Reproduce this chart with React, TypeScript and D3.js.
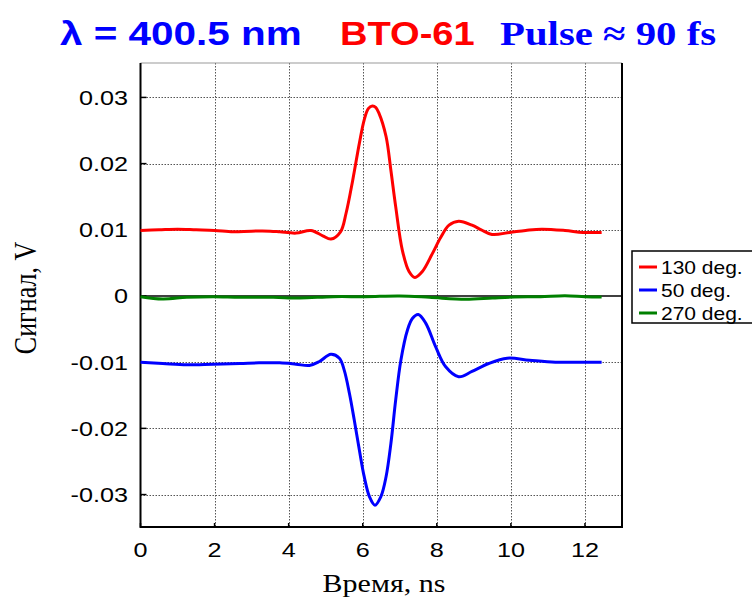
import * as d3 from 'd3';
import { useEffect, useRef } from 'react';

// 130 deg (red)
const tRed = [0, 0.5, 1, 1.5, 2, 2.5, 3, 3.5, 3.76, 4.2, 4.6, 4.92, 5.14, 5.4, 5.55, 5.73, 5.91, 6.04, 6.15, 6.26, 6.35, 6.44, 6.63, 6.76, 6.89, 7.07, 7.25, 7.41, 7.61, 7.88, 8.1, 8.33, 8.59, 8.95, 9.2, 9.49, 9.97, 10.4, 10.83, 11.46, 11.95, 12.45];
const vRed = [0.0099, 0.01, 0.0101, 0.01, 0.0099, 0.0097, 0.0098, 0.0098, 0.0097, 0.0095, 0.0099, 0.0091, 0.0086, 0.0097, 0.0125, 0.0175, 0.0231, 0.0266, 0.0283, 0.0287, 0.0285, 0.0276, 0.0241, 0.019, 0.0135, 0.0069, 0.0037, 0.0028, 0.0037, 0.0064, 0.0088, 0.0107, 0.0113, 0.0107, 0.01, 0.0093, 0.0096, 0.0099, 0.0101, 0.0099, 0.0096, 0.0096];

// 50 deg (blue)
const tBlue = [0, 0.6, 1.25, 1.96, 2.68, 3.2, 3.76, 4.2, 4.56, 4.83, 5.14, 5.37, 5.5, 5.64, 5.77, 5.91, 6.04, 6.18, 6.33, 6.49, 6.63, 6.76, 6.89, 7.03, 7.21, 7.34, 7.5, 7.7, 7.97, 8.24, 8.59, 8.95, 9.4, 9.9, 10.5, 11.2, 12.0, 12.45];
const vBlue = [-0.01, -0.0102, -0.0104, -0.0103, -0.0102, -0.0101, -0.0101, -0.0103, -0.0105, -0.0099, -0.0088, -0.0094, -0.0112, -0.0147, -0.0187, -0.0233, -0.0273, -0.0303, -0.0316, -0.0303, -0.0273, -0.0223, -0.0157, -0.0097, -0.0051, -0.0034, -0.0028, -0.0041, -0.0077, -0.0107, -0.0122, -0.0114, -0.0102, -0.0094, -0.0097, -0.01, -0.01, -0.01];

// 270 deg (green)
const tGreen = [0, 0.6, 1.25, 1.96, 2.68, 3.58, 4.3, 5.2, 6.08, 7.0, 7.8, 8.77, 9.5, 10.1, 10.8, 11.46, 12.0, 12.45];
const vGreen = [-0.0001, -0.00045, -0.0002, -0.0001, -0.0002, -0.0002, -0.0003, -0.0001, -0.0001, 0, -0.0002, -0.0005, -0.0003, -0.00015, -0.0001, 0.00005, -0.0001, -0.00015];

const xTicks = [0, 2, 4, 6, 8, 10, 12];
const yTicks = [-0.03, -0.02, -0.01, 0, 0.01, 0.02, 0.03];
const seriesNames = ['130 deg.', '50 deg.', '270 deg.'];
const seriesColors = ['#ff0000', '#0000ff', '#008000'];

const SANS = "'Liberation Sans', Arial, sans-serif";
const SERIF = "'Liberation Serif', 'Times New Roman', serif";
const SX = 1.2; // the original picture is stretched sideways

export default function App() {
  const svgRef = useRef<SVGSVGElement | null>(null);

  useEffect(() => {
    if (!svgRef.current) return;
    const svg = d3.select(svgRef.current);
    svg.selectAll('*').remove();

    const left = 140.5, right = 622, top = 63, bottom = 527;
    const x = d3.scaleLinear().domain([0, 13]).range([left, right]);
    const y = d3.scaleLinear().domain([-0.0349, 0.0352]).range([bottom, top]);

    // stretched text helper
    const label = (px: number, py: number, txt: string, size: number, anchor: string, fam: string, fill = '#000', weight = 'normal', sx = SX) =>
      svg.append('text')
        .attr('transform', `translate(${px},${py}) scale(${sx},1)`)
        .attr('text-anchor', anchor)
        .attr('font-family', fam)
        .attr('font-size', size)
        .attr('font-weight', weight)
        .attr('fill', fill)
        .text(txt);

    // grid (dotted)
    const grid = svg.append('g').attr('stroke', '#555').attr('stroke-width', 1).attr('stroke-dasharray', '1.5,1.5');
    grid.append('g').selectAll('line').data(xTicks.filter(d => d > 0)).join('line')
      .attr('x1', d => Math.round(x(d)) + 0.5).attr('x2', d => Math.round(x(d)) + 0.5).attr('y1', top).attr('y2', bottom);
    grid.append('g').selectAll('line').data(yTicks.filter(d => d !== 0)).join('line')
      .attr('x1', left).attr('x2', right).attr('y1', d => Math.round(y(d)) + 0.5).attr('y2', d => Math.round(y(d)) + 0.5);

    // zero line
    svg.append('line').attr('x1', left).attr('x2', right).attr('y1', y(0)).attr('y2', y(0))
      .attr('stroke', '#000').attr('stroke-width', 1.5);

    // box
    svg.append('line').attr('x1', left).attr('x2', right).attr('y1', top).attr('y2', top).attr('stroke', '#999').attr('stroke-width', 1);
    svg.append('path').attr('d', `M${left},${top}V${bottom}H${right}V${top}`)
      .attr('fill', 'none').attr('stroke', '#000').attr('stroke-width', 2);

    // ticks (inward)
    svg.append('g').selectAll('line').data(yTicks).join('line')
      .attr('x1', left).attr('x2', left + 6).attr('y1', d => y(d)).attr('y2', d => y(d))
      .attr('stroke', '#000').attr('stroke-width', 1.5);
    svg.append('g').selectAll('line').data(xTicks).join('line')
      .attr('x1', d => x(d)).attr('x2', d => x(d)).attr('y1', bottom).attr('y2', bottom - 4)
      .attr('stroke', '#000').attr('stroke-width', 1.5);

    // tick labels
    yTicks.forEach(v => label(128, y(v) + 7.5, v === 0 ? '0' : d3.format('.2f')(v).replace('−', '-'), 21, 'end', SANS));
    xTicks.forEach(v => label(x(v), 557, String(v), 21, 'middle', SANS));

    // series
    const line = d3.line<[number, number]>()
      .x(d => x(d[0])).y(d => y(d[1]))
      .curve(d3.curveCatmullRom.alpha(0.5));
    const series: [number, number][][] = [
      tRed.map((t, i) => [t, vRed[i]]),
      tBlue.map((t, i) => [t, vBlue[i]]),
      tGreen.map((t, i) => [t, vGreen[i]]),
    ];
    [2, 0, 1].forEach(i => {
      svg.append('path').attr('d', line(series[i]) ?? '')
        .attr('fill', 'none').attr('stroke', seriesColors[i])
        .attr('stroke-width', 3).attr('stroke-linejoin', 'round');
    });

    // axis titles
    label(384, 592, 'Время, ns', 25, 'middle', SERIF);
    svg.append('text')
      .attr('transform', 'translate(36,298) rotate(-90) scale(1,1.2)')
      .attr('text-anchor', 'middle')
      .attr('font-family', SERIF)
      .attr('font-size', 26)
      .text('Сигнал, V');

    // title
    label(60, 45, 'λ = 400.5 nm', 34, 'start', SANS, '#0000ff', 'bold', 1.19);
    label(340, 45, 'BTO-61', 34, 'start', SANS, '#ff0000', 'bold', 1.12);
    label(500, 45, 'Pulse ≈ 90 fs', 34, 'start', SERIF, '#0000ff', 'bold', 1.2);

    // legend
    const lg = svg.append('g');
    lg.append('rect').attr('x', 632).attr('y', 251).attr('width', 130).attr('height', 72)
      .attr('fill', '#fff').attr('stroke', '#000').attr('stroke-width', 1.5);
    seriesNames.forEach((name, i) => {
      const ry = 267 + i * 23;
      lg.append('line').attr('x1', 639).attr('x2', 657).attr('y1', ry).attr('y2', ry)
        .attr('stroke', seriesColors[i]).attr('stroke-width', 3);
      label(661, ry + 6.5, name, 17.5, 'start', SANS);
    });
  }, []);

  return (
    <svg ref={svgRef} width={752} height={599}
      style={{ position: 'absolute', left: 0, top: 0, background: '#fff' }} />
  );
}
